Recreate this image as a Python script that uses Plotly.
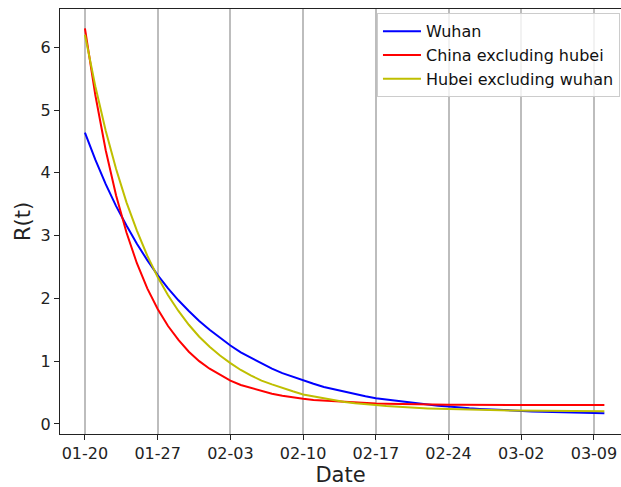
import pandas as pd
import plotly.graph_objects as go

start_date = "2020-01-20"
n_days = 51

wuhan = [4.64, 4.21, 3.82, 3.47, 3.16, 2.87, 2.61, 2.37, 2.16, 1.97,
         1.80, 1.64, 1.50, 1.37, 1.25, 1.14, 1.05, 0.96, 0.88, 0.81,
         0.75, 0.69, 0.64, 0.59, 0.55, 0.51, 0.47, 0.44, 0.41, 0.39,
         0.36, 0.34, 0.32, 0.31, 0.29, 0.28, 0.26, 0.25, 0.24, 0.23,
         0.22, 0.215, 0.21, 0.20, 0.195, 0.19, 0.185, 0.18, 0.177, 0.173,
         0.17]
china_ex_hubei = [6.30, 5.24, 4.36, 3.64, 3.05, 2.56, 2.16, 1.83, 1.56, 1.34,
                  1.15, 1.00, 0.88, 0.78, 0.69, 0.62, 0.57, 0.52, 0.48, 0.45,
                  0.42, 0.40, 0.38, 0.37, 0.356, 0.346, 0.338, 0.331, 0.325, 0.321,
                  0.317, 0.314, 0.312, 0.31, 0.308, 0.306, 0.305, 0.304, 0.303, 0.303,
                  0.302, 0.302, 0.302, 0.301, 0.301, 0.301, 0.301, 0.300, 0.300, 0.300,
                  0.300]
hubei_ex_wuhan = [6.20, 5.38, 4.67, 4.06, 3.53, 3.08, 2.68, 2.34, 2.05, 1.80,
                  1.58, 1.39, 1.23, 1.09, 0.97, 0.86, 0.77, 0.69, 0.63, 0.57,
                  0.52, 0.47, 0.44, 0.40, 0.38, 0.35, 0.33, 0.31, 0.30, 0.285,
                  0.273, 0.263, 0.254, 0.247, 0.241, 0.235, 0.23, 0.226, 0.222, 0.219,
                  0.217, 0.214, 0.212, 0.211, 0.209, 0.208, 0.207, 0.206, 0.205, 0.205,
                  0.204]
series_names = ["Wuhan", "China excluding hubei", "Hubei excluding wuhan"]
series_colors = ["#0000ff", "#ff0000", "#bfbf00"]
y_ticks = [0, 1, 2, 3, 4, 5, 6]

dates = pd.date_range(start_date, periods=n_days, freq="D")

fig = go.Figure()
for name, vals, col in zip(series_names, [wuhan, china_ex_hubei, hubei_ex_wuhan], series_colors):
    fig.add_trace(go.Scatter(x=dates, y=vals, mode="lines", name=name,
                             line=dict(color=col, width=2)))

font_family = "DejaVu Sans"
fig.update_layout(
    width=621, height=487,
    margin=dict(l=60, r=0, t=9, b=53),
    paper_bgcolor="white", plot_bgcolor="white",
    font=dict(family=font_family, size=16, color="#222222"),
    legend=dict(x=0.565, y=0.99, xanchor="left", yanchor="top",
                bgcolor="rgba(255,255,255,0.8)", bordercolor="#cccccc", borderwidth=1,
                font=dict(family=font_family, size=16, color="#111111"),
                itemwidth=38),
    showlegend=True,
)
fig.update_xaxes(
    type="date",
    range=["2020-01-17 14:24", "2020-03-11 14:24"],
    tick0="2020-01-20", dtick=7 * 24 * 3600 * 1000, tickformat="%m-%d",
    showgrid=True, gridcolor="#bdbdbd", gridwidth=1.5,
    showline=True, linecolor="#222222", linewidth=1.3, mirror=True,
    ticks="outside", ticklen=5, tickcolor="#222222",
    tickfont=dict(size=16),
    title=dict(text="Date", font=dict(size=21), standoff=6),
    zeroline=False,
)
fig.update_yaxes(
    range=[-0.16, 6.61],
    tickvals=y_ticks,
    showgrid=False,
    showline=True, linecolor="#222222", linewidth=1.3,
    ticks="outside", ticklen=5, tickcolor="#222222",
    tickfont=dict(size=16),
    title=dict(text="R(t)", font=dict(size=21), standoff=4),
    zeroline=False,
)
fig.write_html("out.html", config={"displayModeBar": False},
               post_script="document.body.style.margin='0px';document.body.style.overflow='hidden';")
